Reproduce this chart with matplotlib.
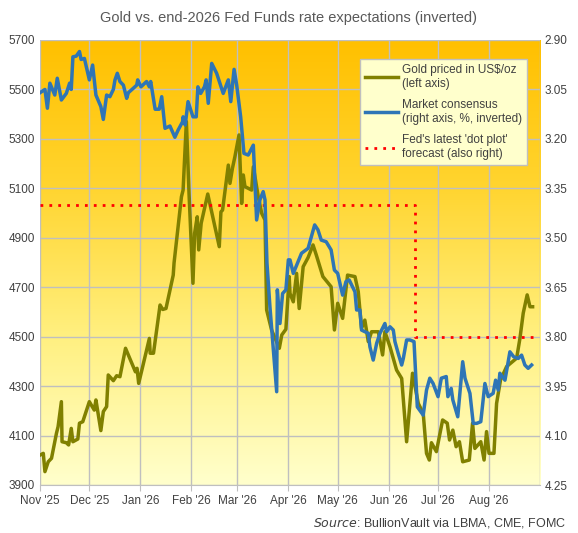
import numpy as np
import pandas as pd
import matplotlib
matplotlib.use("Agg")
import matplotlib.pyplot as plt
import matplotlib.dates as mdates
from matplotlib.colors import LinearSegmentedColormap

plt.rcParams['font.family'] = ['Liberation Sans', 'DejaVu Sans']

start = pd.Timestamp("2025-11-01")

gold_days = [0, 2, 3, 5, 7, 10, 11, 13, 13.4, 16, 17.4, 19, 20, 23, 24, 26, 30, 33, 34, 37, 38.5, 40.5, 41.5,
             44.6, 46.6, 48.6, 52, 58, 59, 60, 66.5, 67, 69, 73, 74.6, 76.6, 81, 81.5, 86, 87, 89, 90.6, 93,
             94, 95.6, 96.5, 98, 102, 105, 109, 110, 111, 114.5, 115.5, 117, 118.5, 121, 122.6, 123.6, 124.6,
             128.7, 129.7, 132.7, 134.8, 136.8, 137.8, 140.8, 145.5, 147, 149.5, 151.5, 152, 154, 156, 157.6,
             160, 163, 166, 168, 172, 177, 179, 181, 184, 187, 191.5, 193.5, 194.5, 195.5, 197.5, 199.6, 201.6,
             205.7, 208.3, 209.7, 212.8, 216.8, 219.9, 222.9, 226.5, 230, 233, 235, 236.7, 238, 241, 244.8,
             247.6, 249, 251, 253, 255, 257, 261, 263, 264.4, 268, 270, 271.5, 273, 276, 277.6, 280, 283.7,
             289.8, 291.8, 293.8, 296.2, 297.9, 299.5]
gold_vals = [4021, 4028, 3954, 3994, 4008, 4109, 4136, 4237, 4075, 4071, 4062, 4129, 4075, 4086, 4150, 4156,
             4237, 4203, 4244, 4120, 4197, 4217, 4345, 4322, 4342, 4338, 4453, 4358, 4372, 4311, 4493, 4433,
             4433, 4628, 4610, 4614, 4749, 4798, 5066, 5093, 5370, 5081, 4716, 4918, 4985, 4851, 4959, 5077,
             4985, 4864, 5005, 5012, 5194, 5120, 5181, 5228, 5316, 5039, 5154, 5107, 5093, 5187, 5066, 4999,
             4972, 4608, 4527, 4453, 4507, 4530, 4743, 4675, 4641, 4756, 4614, 4783, 4820, 4871, 4830, 4743,
             4702, 4527, 4635, 4574, 4749, 4743, 4682, 4608, 4534, 4567, 4480, 4520, 4520, 4426, 4520, 4459,
             4365, 4331, 4075, 4352, 4230, 4190, 4028, 4001, 4071, 4035, 4163, 4150, 4082, 4122, 4055, 4075,
             3994, 4001, 4150, 4048, 4075, 4001, 4116, 4028, 4028, 4230, 4325, 4379, 4413, 4493, 4595, 4669,
             4621, 4621]

rate_days = [0, 3, 4.5, 6, 9, 10.5, 13, 16, 18, 19, 20, 22, 24, 25, 27, 30, 32, 34, 37, 38.5, 40.5, 42.5,
             44.6, 45.6, 47, 48.6, 50.7, 52.7, 53.7, 58.8, 59.4, 61.4, 64.8, 66.5, 67.3, 70, 72.5, 74, 76, 79,
             82, 84, 86.7, 87, 88.3, 90, 93, 95, 96, 97.7, 100, 101, 102.3, 104.4, 107.4, 111.4, 114.5, 116,
             118, 119.6, 122, 124, 126.6, 129.7, 131.7, 133.7, 135.7, 136.8, 138, 139.8, 143.9, 144.3, 145.9,
             147.5, 149.5, 151, 152, 154, 159, 163, 167, 169, 171, 174, 177, 178, 179, 181, 184, 186, 188,
             191.5, 192.5, 194.5, 195.5, 199.6, 200.6, 202.6, 204.7, 206.7, 209.7, 210.8, 212.8, 214.8, 215.8,
             217.8, 219.9, 220.9, 222.9, 224.9, 227.4, 229.4, 233, 235, 237, 239, 242, 244, 247, 248, 250, 251,
             254, 257, 258.4, 261.4, 263.4, 265.5, 268, 270.5, 272.5, 275.5, 277, 278.6, 279.6, 282.7, 285.7,
             288, 290.8, 292.8, 294.8, 296.8, 298.9]
rate_vals = [3.060, 3.050, 3.107, 3.031, 3.067, 3.016, 3.082, 3.062, 3.031, 3.050, 2.951, 2.949, 2.935, 2.959,
             2.956, 3.021, 2.976, 3.067, 3.102, 3.141, 3.067, 3.072, 3.050, 3.021, 3.001, 3.026, 3.037, 3.077,
             3.060, 3.037, 3.021, 3.042, 3.026, 3.042, 3.026, 3.110, 3.110, 3.072, 3.168, 3.161, 3.195, 3.173,
             3.148, 3.133, 3.158, 3.087, 3.133, 3.133, 3.042, 3.062, 3.042, 3.021, 3.092, 2.971, 3.001, 3.062,
             3.021, 3.087, 2.989, 3.037, 3.133, 3.244, 3.249, 3.219, 3.446, 3.385, 3.360, 3.385, 3.577, 3.709,
             3.967, 3.658, 3.760, 3.669, 3.658, 3.567, 3.567, 3.608, 3.547, 3.532, 3.461, 3.476, 3.507, 3.512,
             3.537, 3.567, 3.598, 3.608, 3.674, 3.633, 3.628, 3.664, 3.719, 3.719, 3.780, 3.790, 3.831, 3.871,
             3.820, 3.790, 3.760, 3.785, 3.770, 3.780, 3.815, 3.851, 3.886, 3.866, 3.810, 3.810, 3.815, 4.013,
             4.038, 3.962, 3.926, 3.942, 3.982, 3.926, 3.921, 3.982, 3.957, 3.992, 4.043, 3.876, 3.926, 3.972,
             4.063, 4.063, 4.058, 3.942, 3.982, 3.972, 3.932, 3.962, 3.911, 3.932, 3.846, 3.861, 3.866, 3.856,
             3.886, 3.896, 3.886]

dot_dates = ["2025-11-01", "2026-06-17", "2026-06-17", "2026-08-28"]
dot_vals = [3.40, 3.40, 3.80, 3.80]

month_ticks = pd.date_range("2025-11-01", "2026-08-01", freq="MS")
month_labels = [d.strftime("%b '%y") for d in month_ticks]
gold_ticks = list(range(3900, 5701, 200))
rate_ticks = [2.90, 3.05, 3.20, 3.35, 3.50, 3.65, 3.80, 3.95, 4.10, 4.25]

gold_x = start + pd.to_timedelta(gold_days, unit="D")
rate_x = start + pd.to_timedelta(rate_days, unit="D")
dot_x = pd.to_datetime(dot_dates)

fig = plt.figure(figsize=(5.78, 5.33), dpi=100)
ax = fig.add_axes([40/578, 48/533, 500/578, 445/533])
ax2 = ax.twinx()

cmap = LinearSegmentedColormap.from_list("bg", ["#FFC000", "#FFD530", "#FFF080", "#FFFFCC"])
grad = np.linspace(0, 1, 256).reshape(-1, 1)
ax.imshow(grad, extent=[0, 1, 0, 1], transform=ax.transAxes, aspect='auto', cmap=cmap, zorder=0)

ax.set_xlim(pd.Timestamp("2025-11-01"), pd.Timestamp("2026-09-01"))
ax.set_ylim(3900, 5700)
ax2.set_ylim(4.25, 2.90)

grid_months = pd.date_range("2025-11-01", "2026-09-01", freq="MS")
for d in grid_months:
    ax.axvline(d, color="#BFBFBF", lw=1, zorder=1)
for g in gold_ticks:
    ax.axhline(g, color="#BFBFBF", lw=1, zorder=1)

ax.plot(gold_x, gold_vals, color="#808000", lw=2.5, zorder=3, label="Gold priced in US$/oz\n(left axis)")
ax2.plot(rate_x, rate_vals, color="#2E75B6", lw=2.5, zorder=3, label="Market consensus\n(right axis, %, inverted)")
ax2.plot(dot_x, dot_vals, color="#FF0000", lw=2, ls=(0, (1, 2.2)), zorder=2,
         label="Fed's latest 'dot plot'\nforecast (also right)")

ax.set_xticks(month_ticks)
ax.set_xticklabels(month_labels)
ax.set_yticks(gold_ticks)
ax2.set_yticks(rate_ticks)
ax2.set_yticklabels([f"{r:.2f}" for r in rate_ticks])

for a in (ax, ax2):
    a.tick_params(colors="#404040", labelsize=8.5, length=4, color="#BFBFBF")
    for s in a.spines.values():
        s.set_visible(False)
ax.spines['bottom'].set_visible(True)
ax.spines['bottom'].set_color("#BFBFBF")
ax.tick_params(axis='y', length=0)
ax2.tick_params(axis='y', length=0)

h1, l1 = ax.get_legend_handles_labels()
h2, l2 = ax2.get_legend_handles_labels()
leg = ax2.legend(h1 + h2, l1 + l2, loc="upper left", bbox_to_anchor=(316/500, 1 - 15/445),
                 fontsize=8.5, frameon=True, fancybox=False, handlelength=2.8, labelspacing=0.8,
                 borderpad=0.45, handletextpad=0.35, borderaxespad=0.3)
leg.get_frame().set_facecolor("#FFFFCC")
leg.get_frame().set_edgecolor("#BFBFBF")
leg.get_frame().set_alpha(1)
for t in leg.get_texts():
    t.set_color("#404040")

fig.text(0.5, 1 - 18/533, "Gold vs. end-2026 Fed Funds rate expectations (inverted)", ha="center", va="center",
         fontsize=10.5, color="#595959")
fig.text(566/578, 1 - 523/533, r"$\it{Source}$: BullionVault via LBMA, CME, FOMC", ha="right", va="center",
         fontsize=9, color="#404040")
fig.savefig("out.png", dpi=100)
